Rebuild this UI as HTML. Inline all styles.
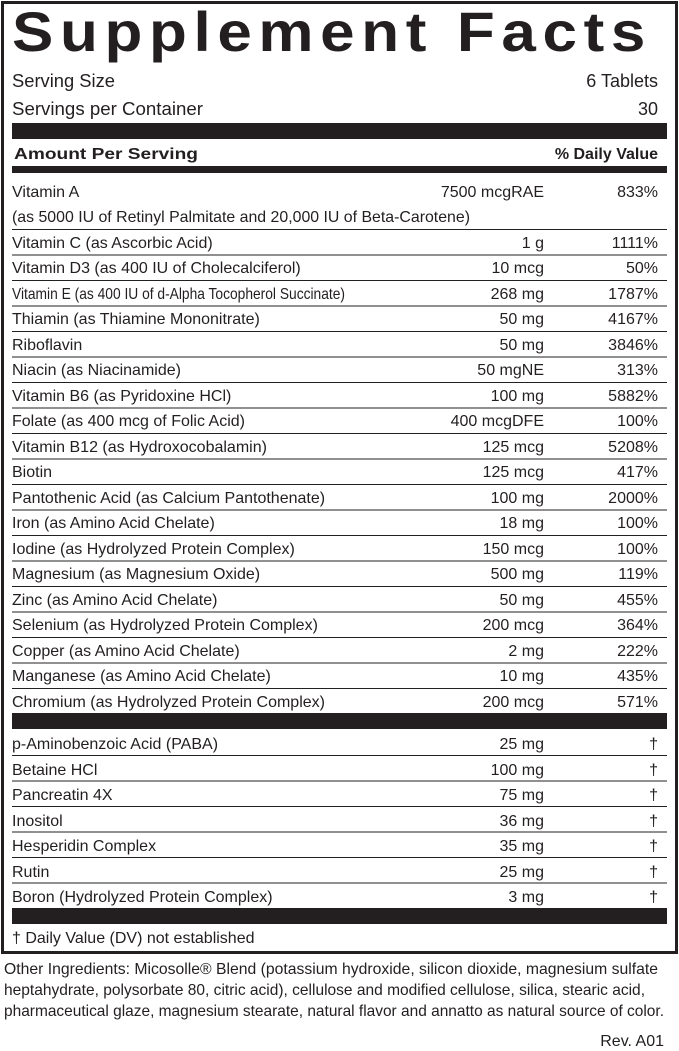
<!DOCTYPE html>
<html><head><meta charset="utf-8"><style>
html,body{margin:0;padding:0;background:#fff;}
svg{display:block;}
text{font-family:"Liberation Sans",sans-serif;fill:#231f20;}
</style></head><body>
<svg width="679" height="1051" viewBox="0 0 679 1051" xmlns="http://www.w3.org/2000/svg">
<rect x="2.5" y="2.5" width="674" height="950" fill="none" stroke="#231f20" stroke-width="3"/>
<text x="12" y="51" font-size="56" font-weight="bold" letter-spacing="6" textLength="640" lengthAdjust="spacingAndGlyphs">Supplement Facts</text>
<g font-size="18">
<text x="12" y="87" textLength="103" lengthAdjust="spacingAndGlyphs">Serving Size</text>
<text x="658" y="87" text-anchor="end">6 Tablets</text>
<text x="12" y="115" textLength="191" lengthAdjust="spacingAndGlyphs">Servings per Container</text>
<text x="658" y="115" text-anchor="end">30</text>
</g>
<rect x="12" y="123" width="655" height="16" fill="#231f20"/>
<text x="14" y="159" font-size="16" font-weight="bold" textLength="184" lengthAdjust="spacingAndGlyphs">Amount Per Serving</text>
<text x="658" y="159" font-size="16" font-weight="bold" text-anchor="end">% Daily Value</text>
<rect x="12" y="166" width="655" height="7" fill="#231f20"/>
<g font-size="16">
<text x="12" y="197">Vitamin A</text>
<text x="544" y="197" text-anchor="end">7500 mcgRAE</text>
<text x="658" y="197" text-anchor="end">833%</text>
<text x="12" y="222" textLength="458" lengthAdjust="spacingAndGlyphs">(as 5000 IU of Retinyl Palmitate and 20,000 IU of Beta-Carotene)</text>
<line x1="12" x2="667" y1="229.5" y2="229.5" stroke="#231f20"/>
</g>
<g font-size="16">
<text x="12" y="248">Vitamin C (as Ascorbic Acid)</text><text x="544" y="248" text-anchor="end">1 g</text><text x="658" y="248" text-anchor="end">1111%</text><line x1="12" x2="667" y1="255" y2="255" stroke="#231f20"/>
<text x="12" y="273">Vitamin D3 (as 400 IU of Cholecalciferol)</text><text x="544" y="273" text-anchor="end">10 mcg</text><text x="658" y="273" text-anchor="end">50%</text><line x1="12" x2="667" y1="280.5" y2="280.5" stroke="#231f20"/>
<text x="12" y="299" textLength="333" lengthAdjust="spacingAndGlyphs">Vitamin E (as 400 IU of d-Alpha Tocopherol Succinate)</text><text x="544" y="299" text-anchor="end">268 mg</text><text x="658" y="299" text-anchor="end">1787%</text><line x1="12" x2="667" y1="306" y2="306" stroke="#231f20"/>
<text x="12" y="324">Thiamin (as Thiamine Mononitrate)</text><text x="544" y="324" text-anchor="end">50 mg</text><text x="658" y="324" text-anchor="end">4167%</text><line x1="12" x2="667" y1="331.5" y2="331.5" stroke="#231f20"/>
<text x="12" y="350">Riboflavin</text><text x="544" y="350" text-anchor="end">50 mg</text><text x="658" y="350" text-anchor="end">3846%</text><line x1="12" x2="667" y1="357" y2="357" stroke="#231f20"/>
<text x="12" y="375">Niacin (as Niacinamide)</text><text x="544" y="375" text-anchor="end">50 mgNE</text><text x="658" y="375" text-anchor="end">313%</text><line x1="12" x2="667" y1="382.5" y2="382.5" stroke="#231f20"/>
<text x="12" y="401">Vitamin B6 (as Pyridoxine HCl)</text><text x="544" y="401" text-anchor="end">100 mg</text><text x="658" y="401" text-anchor="end">5882%</text><line x1="12" x2="667" y1="408" y2="408" stroke="#231f20"/>
<text x="12" y="426">Folate (as 400 mcg of Folic Acid)</text><text x="544" y="426" text-anchor="end">400 mcgDFE</text><text x="658" y="426" text-anchor="end">100%</text><line x1="12" x2="667" y1="433.5" y2="433.5" stroke="#231f20"/>
<text x="12" y="452">Vitamin B12 (as Hydroxocobalamin)</text><text x="544" y="452" text-anchor="end">125 mcg</text><text x="658" y="452" text-anchor="end">5208%</text><line x1="12" x2="667" y1="459" y2="459" stroke="#231f20"/>
<text x="12" y="477">Biotin</text><text x="544" y="477" text-anchor="end">125 mcg</text><text x="658" y="477" text-anchor="end">417%</text><line x1="12" x2="667" y1="484.5" y2="484.5" stroke="#231f20"/>
<text x="12" y="503">Pantothenic Acid (as Calcium Pantothenate)</text><text x="544" y="503" text-anchor="end">100 mg</text><text x="658" y="503" text-anchor="end">2000%</text><line x1="12" x2="667" y1="510" y2="510" stroke="#231f20"/>
<text x="12" y="528">Iron (as Amino Acid Chelate)</text><text x="544" y="528" text-anchor="end">18 mg</text><text x="658" y="528" text-anchor="end">100%</text><line x1="12" x2="667" y1="535.5" y2="535.5" stroke="#231f20"/>
<text x="12" y="554">Iodine (as Hydrolyzed Protein Complex)</text><text x="544" y="554" text-anchor="end">150 mcg</text><text x="658" y="554" text-anchor="end">100%</text><line x1="12" x2="667" y1="561" y2="561" stroke="#231f20"/>
<text x="12" y="579">Magnesium (as Magnesium Oxide)</text><text x="544" y="579" text-anchor="end">500 mg</text><text x="658" y="579" text-anchor="end">119%</text><line x1="12" x2="667" y1="586.5" y2="586.5" stroke="#231f20"/>
<text x="12" y="605">Zinc (as Amino Acid Chelate)</text><text x="544" y="605" text-anchor="end">50 mg</text><text x="658" y="605" text-anchor="end">455%</text><line x1="12" x2="667" y1="612" y2="612" stroke="#231f20"/>
<text x="12" y="630">Selenium (as Hydrolyzed Protein Complex)</text><text x="544" y="630" text-anchor="end">200 mcg</text><text x="658" y="630" text-anchor="end">364%</text><line x1="12" x2="667" y1="637.5" y2="637.5" stroke="#231f20"/>
<text x="12" y="656">Copper (as Amino Acid Chelate)</text><text x="544" y="656" text-anchor="end">2 mg</text><text x="658" y="656" text-anchor="end">222%</text><line x1="12" x2="667" y1="663" y2="663" stroke="#231f20"/>
<text x="12" y="681">Manganese (as Amino Acid Chelate)</text><text x="544" y="681" text-anchor="end">10 mg</text><text x="658" y="681" text-anchor="end">435%</text><line x1="12" x2="667" y1="688.5" y2="688.5" stroke="#231f20"/>
<text x="12" y="707">Chromium (as Hydrolyzed Protein Complex)</text><text x="544" y="707" text-anchor="end">200 mcg</text><text x="658" y="707" text-anchor="end">571%</text>
</g>
<rect x="12" y="713" width="655" height="16" fill="#231f20"/>
<g font-size="16">
<text x="12" y="749">p-Aminobenzoic Acid (PABA)</text><text x="544" y="749" text-anchor="end">25 mg</text><text x="658" y="749" text-anchor="end">†</text><line x1="12" x2="667" y1="755.5" y2="755.5" stroke="#231f20"/>
<text x="12" y="775">Betaine HCl</text><text x="544" y="775" text-anchor="end">100 mg</text><text x="658" y="775" text-anchor="end">†</text><line x1="12" x2="667" y1="781" y2="781" stroke="#231f20"/>
<text x="12" y="800">Pancreatin 4X</text><text x="544" y="800" text-anchor="end">75 mg</text><text x="658" y="800" text-anchor="end">†</text><line x1="12" x2="667" y1="806.5" y2="806.5" stroke="#231f20"/>
<text x="12" y="826">Inositol</text><text x="544" y="826" text-anchor="end">36 mg</text><text x="658" y="826" text-anchor="end">†</text><line x1="12" x2="667" y1="832" y2="832" stroke="#231f20"/>
<text x="12" y="851">Hesperidin Complex</text><text x="544" y="851" text-anchor="end">35 mg</text><text x="658" y="851" text-anchor="end">†</text><line x1="12" x2="667" y1="857.5" y2="857.5" stroke="#231f20"/>
<text x="12" y="877">Rutin</text><text x="544" y="877" text-anchor="end">25 mg</text><text x="658" y="877" text-anchor="end">†</text><line x1="12" x2="667" y1="883" y2="883" stroke="#231f20"/>
<text x="12" y="902">Boron (Hydrolyzed Protein Complex)</text><text x="544" y="902" text-anchor="end">3 mg</text><text x="658" y="902" text-anchor="end">†</text>
</g>
<rect x="12" y="908" width="655" height="16" fill="#231f20"/>
<text x="12" y="943" font-size="16">† Daily Value (DV) not established</text>
<g font-size="16">
<text x="4" y="974" textLength="654" lengthAdjust="spacingAndGlyphs">Other Ingredients: Micosolle® Blend (potassium hydroxide, silicon dioxide, magnesium sulfate</text>
<text x="4" y="995" textLength="641" lengthAdjust="spacingAndGlyphs">heptahydrate, polysorbate 80, citric acid), cellulose and modified cellulose, silica, stearic acid,</text>
<text x="4" y="1016" textLength="660" lengthAdjust="spacingAndGlyphs">pharmaceutical glaze, magnesium stearate, natural flavor and annatto as natural source of color.</text>
<text x="664" y="1046" text-anchor="end">Rev. A01</text>
</g>
</svg>
</body></html>
